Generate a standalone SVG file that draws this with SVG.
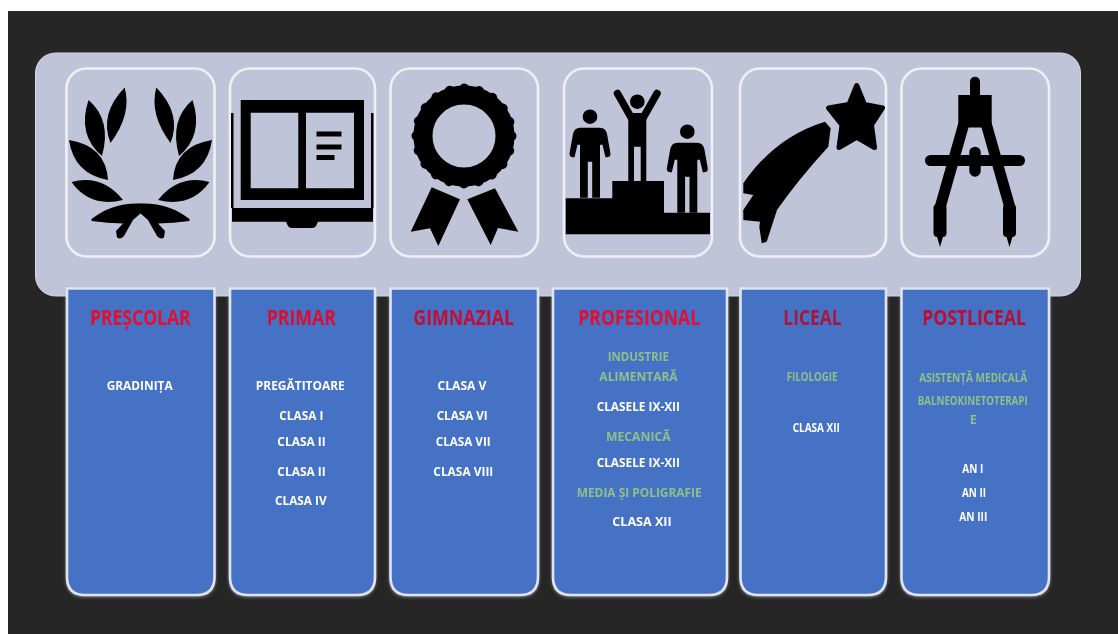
<svg xmlns="http://www.w3.org/2000/svg" width="1118" height="634" viewBox="0 0 1118 634">
<defs>
<style>
.tile{fill:none;stroke:#eef0f6;stroke-width:2.6}
.card{fill:#4472c4;stroke:#dfe4f2;stroke-width:2.6}
text{font-family:"Open Sans","Liberation Sans",sans-serif;text-anchor:middle}
.t{font-size:21px;font-weight:700}
.w{font-size:12.5px;font-weight:700;fill:#fff}
.g{font-size:12.5px;font-weight:700;fill:#8fc08a}
.k{fill:#000}
</style>
<filter id="soft" x="-5%" y="-5%" width="110%" height="110%"><feGaussianBlur stdDeviation="0.6"/></filter>
<filter id="ic" x="-5%" y="-5%" width="110%" height="110%"><feGaussianBlur stdDeviation="0.5"/></filter>
<filter id="sh" x="-5%" y="-5%" width="110%" height="110%"><feDropShadow dx="0" dy="1" stdDeviation="1.5" flood-color="#b8b8b8" flood-opacity="0.6"/></filter>
<g id="half">
<path d="M124.700,87.500Q132,114 110.500,143Q99,114 124.700,87.500Z"/>
<path d="M88.500,100Q112,120 102,156Q77,135 88.500,100Z"/>
<path d="M69,140Q106,146 108,180Q74,174 69,140Z"/>
<path d="M71.500,182Q102,174 123,200Q90,208 71.500,182Z"/>
<path d="M91.500,219Q113,202 141,203.500L141,213L133,220L124,236Q121,240 117,237.500L116,231L123,223.500Q108,223 91.500,221Z"/>
</g>
<g id="person">
<circle cx="0" cy="0" r="7.300"/>
<path d="M-10,11H10Q15.500,11 17,17L20.500,37Q20.500,41 15.500,40.500L12.500,28L10,28V81H2.200V45H-2.200V81H-10V28L-12.500,28L-15.500,40.500Q-20.500,41 -20.500,37L-17,17Q-15.500,11 -10,11Z"/>
</g>
</defs>
<rect x="0" y="0" width="1118" height="634" fill="#fff"/>
<rect x="8" y="11" width="1110" height="623" fill="#262626"/>
<g id="connectors"></g>
<g id="panel"><rect x="35.500" y="53" width="1045" height="243" rx="20" fill="#c0c4d8" stroke="#d3d8e8" stroke-width="1"/></g>

<g id="tile-prescolar">
<rect class="tile" x="66.500" y="68.500" width="148" height="188" rx="20"/>
<g class="k" filter="url(#ic)">
<use href="#half"/>
<use href="#half" transform="matrix(-1 0 0 1 281 0)"/>
</g>
</g>

<g id="tile-primar">
<rect class="tile" x="230" y="68.500" width="145" height="188" rx="20"/>
<g class="k" filter="url(#ic)">
<path fill-rule="evenodd" d="M240.700,100H364V200H240.700ZM250.700,112.700V188.300H298.300V112.700ZM306,112.700V188.300H354V112.700Z"/>
<rect x="316.500" y="131.500" width="25" height="5"/>
<rect x="316.500" y="144.500" width="25" height="5"/>
<rect x="316.500" y="155" width="18" height="5"/>
<path d="M232,208H373V221.700H318L316,226Q315,228 312,228H292Q289,228 288,226L286,221.700H232Z"/>
<rect x="231" y="113" width="2.500" height="95"/>
<rect x="371" y="113" width="2.500" height="95"/>
</g>
</g>

<g id="tile-gimnazial">
<rect class="tile" x="390.500" y="68.500" width="147.500" height="188" rx="20"/>
<g filter="url(#ic)">
<path class="k" d="M431.700,187.300L460,199.300L438.300,246L430,228.300L410.700,231.700Z"/>
<path class="k" d="M495,188.300L467.300,199.300L490.700,245L498,228L518.300,231.700Z"/>
<circle cx="464" cy="136" r="55.500" fill="#c0c4d8"/>
<circle cx="464" cy="136" r="41" fill="none" stroke="#000" stroke-width="19"/>
<circle cx="464" cy="136" r="47.500" fill="none" stroke="#000" stroke-width="10" stroke-linecap="round" stroke-dasharray="0.01 14.912"/>
</g>
</g>

<g id="tile-profesional">
<rect class="tile" x="564" y="68.500" width="148" height="188" rx="20"/>
<g class="k" filter="url(#ic)">
<path d="M565.700,198.300H612.300V181H664V212.700H710V234.300H565.700Z"/>
<use href="#person" x="590" y="116.700"/>
<use href="#person" x="687.300" y="131.700"/>
<circle cx="637.300" cy="101.700" r="7.300"/>
<path d="M617.500,93.500L632,119M657,93.500L642.500,119" fill="none" stroke="#000" stroke-width="7.500" stroke-linecap="round"/>
<path d="M628.300,113H646.300V181H640.700V146.700H634V181H628.300Z"/>
</g>
</g>

<g id="tile-liceal">
<rect class="tile" x="740" y="68.500" width="146" height="188" rx="20"/>
<g class="k" filter="url(#ic)">
<path d="M856.700,85.500L864.500,104.500L882.500,108L871.500,125L874.500,147.500L856.700,137.300L839,147.500L842,125L828.500,108L849,104.500Z" stroke="#000" stroke-width="5" stroke-linejoin="round"/>
<path d="M825,121.700L830.700,128.300L828.300,146.700Q797,181 777,210L766.700,241.700L761.700,243.300L759.300,226.700L760,221.700L743.300,220V210L753.300,195L743.300,193.300V183.300Q775,137 825,121.700Z"/>
</g>
</g>

<g id="tile-postliceal">
<rect class="tile" x="901.500" y="68.500" width="147.500" height="188" rx="20"/>
<g class="k" filter="url(#ic)">
<rect x="970" y="76.700" width="10" height="25" rx="5"/>
<rect x="958.300" y="95" width="33.400" height="32.500"/>
<rect x="925" y="155" width="100" height="11" rx="5.500"/>
<rect x="969.300" y="146.700" width="11.400" height="30" rx="5.700"/>
<path d="M963.500,125L940.500,206M986.500,125L1009.500,206" fill="none" stroke="#000" stroke-width="11" stroke-linecap="round"/>
<rect x="933.500" y="204" width="13" height="33" rx="4"/>
<rect x="1003" y="204" width="13" height="33" rx="4"/>
<path d="M936.500,235L940,247L943.500,235ZM1006,235L1009.500,247L1013,235Z"/>
</g>
</g>

<g id="card-prescolar">
<path class="card" filter="url(#sh)" d="M67,288.500H214.500V577Q214.500,595 196.500,595H85Q67,595 67,577Z"/>
<g filter="url(#soft)">
<text class="t" x="140.300" y="325" fill="#e8102e" textLength="100.700" lengthAdjust="spacingAndGlyphs">PREȘCOLAR</text>
<text class="w" x="139.700" y="390" textLength="66" lengthAdjust="spacingAndGlyphs">GRADINIȚA</text>
</g>
</g>

<g id="card-primar">
<path class="card" filter="url(#sh)" d="M230,288.500H375V577Q375,595 357,595H248Q230,595 230,577Z"/>
<g filter="url(#soft)">
<text class="t" x="301.300" y="325" fill="#dc1030" textLength="69.300" lengthAdjust="spacingAndGlyphs">PRIMAR</text>
<text class="w" x="300.300" y="390" textLength="89" lengthAdjust="spacingAndGlyphs">PREGĂTITOARE</text>
<text class="w" x="301.300" y="419.700" textLength="44" lengthAdjust="spacingAndGlyphs">CLASA I</text>
<text class="w" x="301.500" y="446" textLength="48.400" lengthAdjust="spacingAndGlyphs">CLASA II</text>
<text class="w" x="301.500" y="475.700" textLength="48.400" lengthAdjust="spacingAndGlyphs">CLASA II</text>
<text class="w" x="300.800" y="505.300" textLength="51.700" lengthAdjust="spacingAndGlyphs">CLASA IV</text>
</g>
</g>

<g id="card-gimnazial">
<path class="card" filter="url(#sh)" d="M390.500,288.500H538V577Q538,595 520,595H408.500Q390.500,595 390.500,577Z"/>
<g filter="url(#soft)">
<text class="t" x="463.700" y="325" fill="#c41034" textLength="100.700" lengthAdjust="spacingAndGlyphs">GIMNAZIAL</text>
<text class="w" x="462" y="390" textLength="49" lengthAdjust="spacingAndGlyphs">CLASA V</text>
<text class="w" x="462.200" y="419.700" textLength="51" lengthAdjust="spacingAndGlyphs">CLASA VI</text>
<text class="w" x="463.200" y="446" textLength="55" lengthAdjust="spacingAndGlyphs">CLASA VII</text>
<text class="w" x="463.300" y="475.700" textLength="60" lengthAdjust="spacingAndGlyphs">CLASA VIII</text>
</g>
</g>

<g id="card-profesional">
<path class="card" filter="url(#sh)" d="M553,288.500H727V577Q727,595 709,595H571Q553,595 553,577Z"/>
<g filter="url(#soft)">
<text class="t" x="639.200" y="325" fill="#e41030" textLength="121.700" lengthAdjust="spacingAndGlyphs">PROFESIONAL</text>
<text class="g" x="638.300" y="360.700" textLength="61.300" lengthAdjust="spacingAndGlyphs">INDUSTRIE</text>
<text class="g" x="638.500" y="381.300" textLength="78.300" lengthAdjust="spacingAndGlyphs">ALIMENTARĂ</text>
<text class="w" x="638.300" y="410.700" textLength="83.300" lengthAdjust="spacingAndGlyphs">CLASELE IX-XII</text>
<text class="g" x="638.300" y="440.700" textLength="64.700" lengthAdjust="spacingAndGlyphs">MECANICĂ</text>
<text class="w" x="638.300" y="467" textLength="83.300" lengthAdjust="spacingAndGlyphs">CLASELE IX-XII</text>
<text class="g" x="639.200" y="496.700" textLength="125" lengthAdjust="spacingAndGlyphs">MEDIA ȘI POLIGRAFIE</text>
<text class="w" x="642" y="525.700" textLength="59.400" lengthAdjust="spacingAndGlyphs">CLASA XII</text>
</g>
</g>

<g id="card-liceal">
<path class="card" filter="url(#sh)" d="M740.500,288.500H886V577Q886,595 868,595H758.500Q740.500,595 740.500,577Z"/>
<g filter="url(#soft)">
<text class="t" x="812.500" y="325" fill="#a8183e" textLength="58.300" lengthAdjust="spacingAndGlyphs">LICEAL</text>
<text class="g" x="812" y="381.300" textLength="50.700" lengthAdjust="spacingAndGlyphs">FILOLOGIE</text>
<text class="w" x="816.300" y="431.700" textLength="47.300" lengthAdjust="spacingAndGlyphs">CLASA XII</text>
</g>
</g>

<g id="card-postliceal">
<path class="card" filter="url(#sh)" d="M901.500,288.500H1049V577Q1049,595 1031,595H919.500Q901.500,595 901.500,577Z"/>
<g filter="url(#soft)">
<text class="t" x="974" y="325" fill="#ba1032" textLength="103.700" lengthAdjust="spacingAndGlyphs">POSTLICEAL</text>
<text class="g" x="973.300" y="382" textLength="108" lengthAdjust="spacingAndGlyphs">ASISTENȚĂ MEDICALĂ</text>
<text class="g" x="972.700" y="405" textLength="110" lengthAdjust="spacingAndGlyphs">BALNEOKINETOTERAPI</text>
<text class="g" x="973.300" y="424">E</text>
<text class="w" x="972.800" y="473.300" textLength="21" lengthAdjust="spacingAndGlyphs">AN I</text>
<text class="w" x="974" y="497.300" textLength="24" lengthAdjust="spacingAndGlyphs">AN II</text>
<text class="w" x="973.300" y="520.700" textLength="28" lengthAdjust="spacingAndGlyphs">AN III</text>
</g>
</g>
</svg>
